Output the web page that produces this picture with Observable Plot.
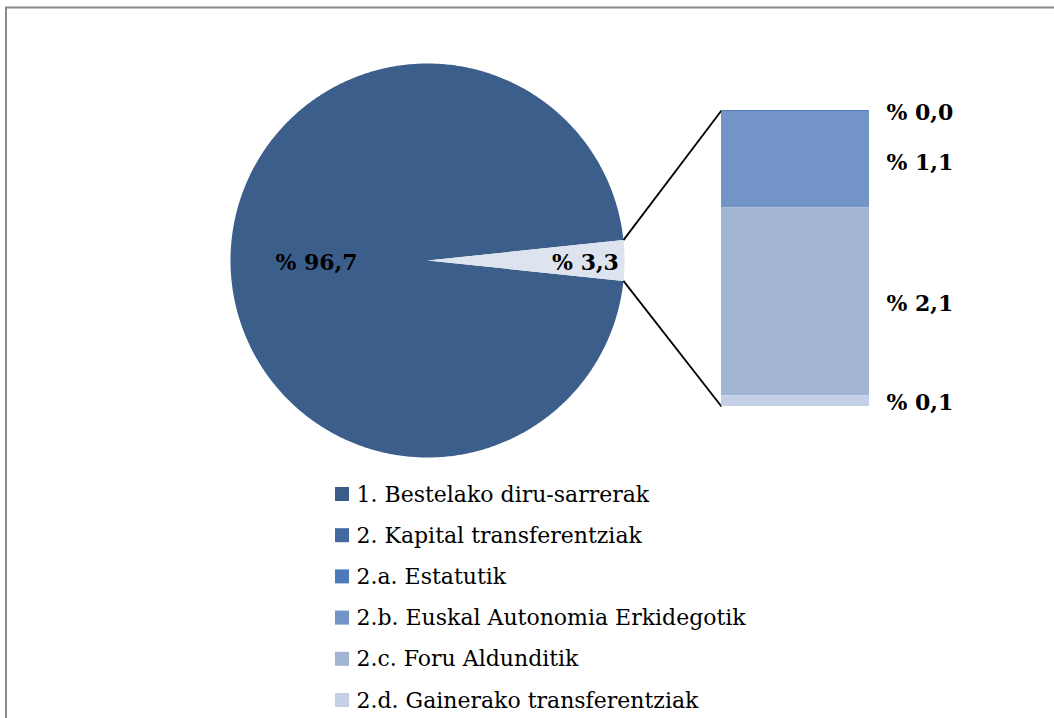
<!DOCTYPE html>
<html><head><meta charset="utf-8">
<script src="https://cdn.jsdelivr.net/npm/d3@7"></script>
<script src="https://cdn.jsdelivr.net/npm/@observablehq/plot@0.6"></script>
<style>body{margin:0;background:#fff}svg{display:block}</style>
</head><body><div id="chart"></div>
<script>
// Pie data
const pieKeys = ["1. Bestelako diru-sarrerak", "2. Kapital transferentziak"];
const pieValues = [96.7, 3.3];
const pieLabels = ["% 96,7", "% 3,3"];
const pieColors = ["#3b5e8b", "#dde3ef"];
// Breakdown bar of slice 2
const barKeys = ["2.a. Estatutik", "2.b. Euskal Autonomia Erkidegotik", "2.c. Foru Aldunditik", "2.d. Gainerako transferentziak"];
const barValues = [0.02, 1.07, 2.1, 0.12];
const barLabels = ["% 0,0", "% 1,1", "% 2,1", "% 0,1"];
const barColors = ["#4f7dbb", "#7394c6", "#a2b4d4", "#c4d0e6"];
// Legend
const legendKeys = ["1. Bestelako diru-sarrerak", "2. Kapital transferentziak", "2.a. Estatutik", "2.b. Euskal Autonomia Erkidegotik", "2.c. Foru Aldunditik", "2.d. Gainerako transferentziak"];
const legendColors = ["#3b5b88", "#426a9e", "#4a7ab7", "#7394c6", "#a2b4d4", "#c4d0e6"];

const W = 1054, H = 718;
const cx = 427, cy = 260, R = 197;
const barX1 = 721, barX2 = 869, barTop = 110, barBottom = 406;
const FONT = "DejaVu Serif";

// pie polygons (small slice centred on angle 0, pointing right)
const total = d3.sum(pieValues);
const smallSpan = pieValues[1] / total * 2 * Math.PI;
const pts = [];
pieValues.forEach((v, i) => {
  const span = v / total * 2 * Math.PI;
  const start = i === 0 ? smallSpan / 2 : -smallSpan / 2;
  const end = start + span;
  const n = Math.max(4, Math.ceil(span / 0.01));
  pts.push({k: i, x: cx, y: cy});
  for (let j = 0; j <= n; j++) {
    const a = start + (end - start) * j / n;
    pts.push({k: i, x: cx + R * Math.cos(a), y: cy - R * Math.sin(a)});
  }
});
const pieLabelPos = [
  {x: 316, y: cy + 2, t: pieLabels[0]},
  {x: 585, y: cy + 2, t: pieLabels[1]}
];

// bar segments
const barTotal = d3.sum(barValues);
const unit = (barBottom - barTop) / barTotal;
let cum = 0;
const segs = barValues.map((v, i) => {
  const s = {i, y1: barTop + cum * unit, y2: barTop + (cum + v) * unit};
  cum += v; return s;
});
const labelY = [112, 162, 303, 402];
const barLab = barLabels.map((t, i) => ({t, y: labelY[i]}));

// connector lines
const upper = {x: cx + R * Math.cos(smallSpan / 2), y: cy - R * Math.sin(smallSpan / 2)};
const lower = {x: cx + R * Math.cos(smallSpan / 2), y: cy + R * Math.sin(smallSpan / 2)};
const connectors = [
  {x1: upper.x, y1: upper.y, x2: barX1, y2: barTop},
  {x1: lower.x, y1: lower.y, x2: barX1, y2: barBottom}
];

const legend = legendKeys.map((k, i) => ({k, i, y: 494 + i * 41.2}));

const plot = Plot.plot({
  width: W, height: H, margin: 0,
  x: {domain: [0, W], range: [0, W], axis: null},
  y: {domain: [0, H], range: [0, H], axis: null},
  style: {fontFamily: FONT, background: "#fff"},
  marks: [
    Plot.ruleY([7], {x1: 5, x2: W, stroke: "#8a8a8a", strokeWidth: 2}),
    Plot.ruleX([5.5], {y1: 7, y2: H, stroke: "#8a8a8a", strokeWidth: 2}),
    Plot.line(pts, {x: "x", y: "y", z: "k", fill: d => pieColors[d.k], stroke: "none", curve: "linear-closed"}),
    Plot.link(connectors, {x1: "x1", y1: "y1", x2: "x2", y2: "y2", stroke: "#000", strokeWidth: 1.8}),
    Plot.rect(segs, {x1: barX1, x2: barX2, y1: "y1", y2: "y2", fill: d => barColors[d.i]}),
    Plot.text(pieLabelPos, {x: "x", y: "y", text: "t", fontSize: 22, fontWeight: "bold", fill: "#000"}),
    Plot.text(barLab, {x: 886, y: "y", text: "t", textAnchor: "start", fontSize: 22, fontWeight: "bold", fill: "#000"}),
    Plot.rect(legend, {x1: 335, x2: 349, y1: d => d.y - 7, y2: d => d.y + 7, fill: d => legendColors[d.i]}),
    Plot.text(legend, {x: 356, y: "y", text: "k", textAnchor: "start", fontSize: 22, fill: "#000"})
  ]
});
document.getElementById("chart").append(plot);
</script></body></html>
